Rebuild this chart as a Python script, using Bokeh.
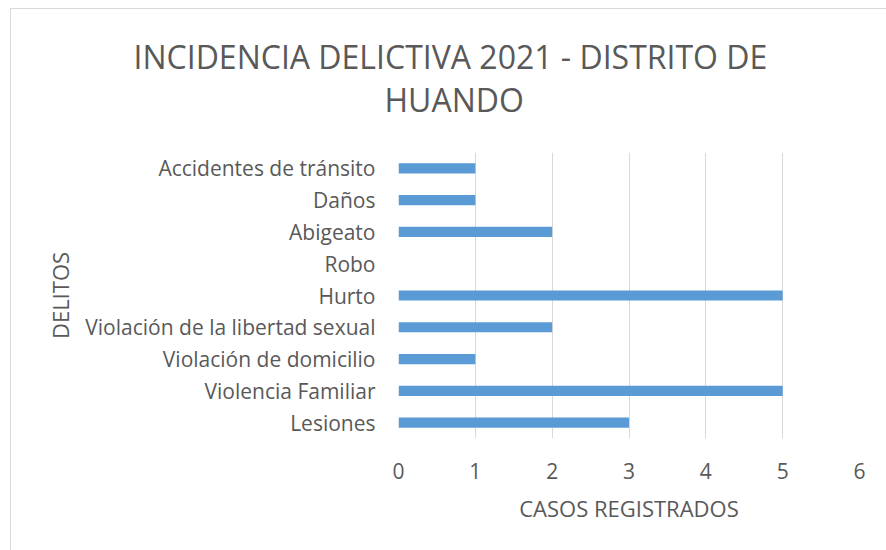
from bokeh.plotting import figure
from bokeh.models import FactorRange, Range1d, Title, FixedTicker
from bokeh.embed import file_html
from bokeh.resources import INLINE

# categories bottom-to-top
categories = ["Lesiones", "Violencia Familiar", "Violación de domicilio",
              "Violación de la libertad sexual", "Hurto", "Robo",
              "Abigeato", "Daños", "Accidentes de tránsito"]
casos = [3, 5, 1, 2, 5, 0, 2, 1, 1]
x_ticks = [0, 1, 2, 3, 4, 5, 6]
title_lines = ["INCIDENCIA DELICTIVA 2021 - DISTRITO DE", "HUANDO"]

FONT = "Open Sans"
GREY = "#595959"

p = figure(width=886, height=550, output_backend="svg", toolbar_location=None,
           y_range=FactorRange(factors=categories, range_padding=0),
           x_range=Range1d(0, 6),
           min_border_left=398, min_border_right=27,
           min_border_top=152, min_border_bottom=112)

p.hbar(y=categories, right=casos, left=0, height=0.32,
       fill_color="#5b9bd5", line_color=None)

t2 = Title(text=title_lines[1], align="left", offset=-14, standoff=64,
           text_font=FONT, text_font_size="32px", text_font_style="normal",
           text_color=GREY)
t1 = Title(text=title_lines[0], align="left", offset=-265, standoff=-68,
           text_font=FONT, text_font_size="32px", text_font_style="normal",
           text_color=GREY)
p.add_layout(t2, "above")
p.add_layout(t1, "above")

p.xaxis.ticker = FixedTicker(ticks=x_ticks)
p.xaxis.axis_label = "CASOS REGISTRADOS"
p.yaxis.axis_label = "DELITOS"
for ax in (p.xaxis, p.yaxis):
    ax.axis_line_color = None
    ax.major_tick_line_color = None
    ax.minor_tick_line_color = None
    ax.major_label_text_font = FONT
    ax.major_label_text_font_size = "21px"
    ax.major_label_text_color = GREY
    ax.axis_label_text_font = FONT
    ax.axis_label_text_font_size = "22px"
    ax.axis_label_text_font_style = "normal"
    ax.axis_label_text_color = GREY
p.xaxis.major_label_standoff = 18
p.yaxis.major_label_standoff = 17
p.xaxis.axis_label_standoff = 11
p.yaxis.axis_label_standoff = 7

p.xgrid.grid_line_color = "#d9d9d9"
p.xgrid.grid_line_width = 1
p.ygrid.grid_line_color = None
p.outline_line_color = None
p.border_fill_alpha = 0
p.styles = {"box-shadow": "inset 10px 8px 0 0 white, inset 11px 9px 0 0 #d9d9d9"}

open("out.html", "w").write(file_html(p, INLINE))
